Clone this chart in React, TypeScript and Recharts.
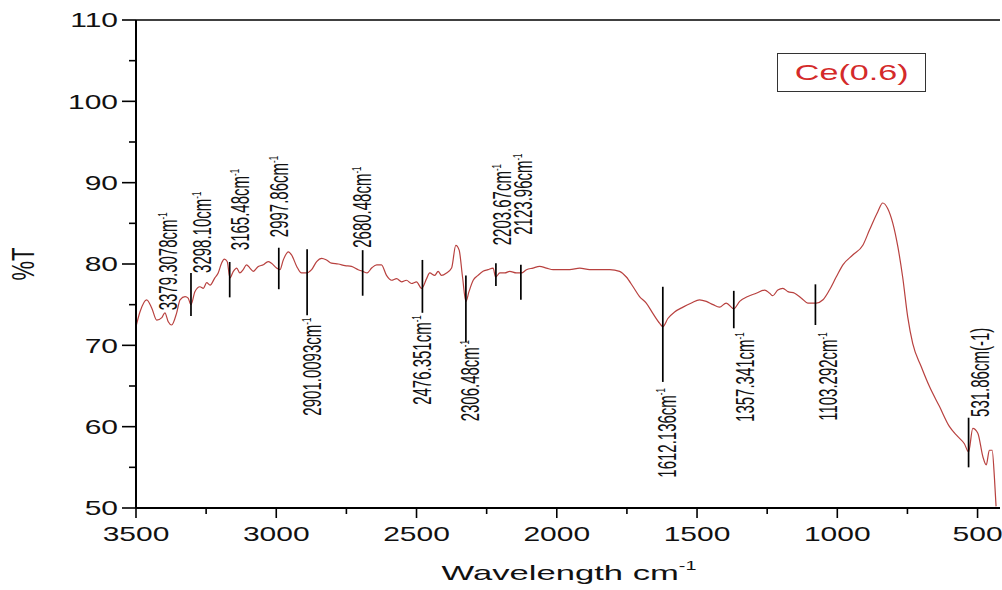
import React from 'react';
import { LineChart, Line, XAxis, YAxis, ReferenceLine, ReferenceDot } from 'recharts';

// spectrum: wavenumber (cm-1) and %T
const wavenumber = [
  3500, 3486, 3462, 3444, 3426, 3408, 3397, 3385, 3373, 3355,
  3343, 3325, 3314, 3304, 3290, 3272, 3260, 3248, 3236, 3219,
  3207, 3195, 3185, 3175, 3165, 3153, 3141, 3130, 3118, 3106,
  3094, 3082, 3064, 3046, 3029, 3017, 2999, 2987, 2975, 2957,
  2945, 2927, 2910, 2892, 2874, 2856, 2838, 2821, 2803, 2779,
  2755, 2732, 2708, 2692, 2676, 2660, 2642, 2625, 2607, 2589,
  2571, 2553, 2536, 2518, 2500, 2482, 2464, 2453, 2435, 2423,
  2411, 2393, 2375, 2360, 2348, 2336, 2324, 2313, 2298, 2281,
  2263, 2245, 2227, 2218, 2203, 2185, 2168, 2144, 2126, 2108,
  2085, 2061, 2037, 2013, 1990, 1954, 1918, 1883, 1847, 1811,
  1776, 1752, 1728, 1705, 1681, 1657, 1633, 1622, 1604, 1580,
  1550, 1520, 1491, 1467, 1443, 1420, 1396, 1369, 1348, 1319,
  1289, 1259, 1241, 1230, 1212, 1194, 1176, 1152, 1128, 1105,
  1075, 1051, 1028, 1004, 980, 945, 909, 885, 856, 838,
  820, 802, 784, 767, 749, 731, 701, 671, 636, 600,
  571, 547, 532, 517, 499, 481, 469, 458, 448, 440,
  434,
];
const transmittance = [
  72.3, 74.1, 75.6, 74.6, 73.1, 73.4, 74.0, 72.9, 72.5, 74.0,
  75.6, 76.0, 75.8, 75.0, 76.6, 77.2, 77.0, 77.7, 77.4, 78.3,
  78.9, 80.1, 80.6, 80.3, 78.3, 79.1, 79.5, 78.9, 79.3, 79.9,
  79.5, 79.1, 79.7, 79.9, 80.3, 80.1, 79.5, 79.3, 80.5, 81.5,
  81.1, 79.7, 78.9, 78.9, 79.3, 80.3, 80.7, 80.5, 80.1, 80.0,
  79.8, 79.7, 79.3, 79.1, 78.9, 79.5, 79.9, 79.9, 78.6, 78.0,
  78.2, 77.8, 78.0, 77.6, 77.8, 77.0, 78.2, 78.9, 78.6, 79.1,
  78.6, 78.9, 79.5, 82.3, 81.7, 78.4, 75.4, 76.6, 78.0, 78.6,
  79.1, 79.3, 79.5, 78.4, 78.9, 78.9, 79.1, 78.9, 78.9, 79.3,
  79.5, 79.7, 79.5, 79.3, 79.3, 79.3, 79.5, 79.3, 79.3, 79.3,
  79.1, 78.4, 77.2, 76.0, 75.2, 73.9, 72.7, 72.3, 73.3, 74.1,
  74.7, 75.2, 75.6, 75.4, 75.0, 74.7, 75.2, 74.5, 75.4, 76.0,
  76.4, 76.8, 76.4, 76.1, 76.8, 77.0, 76.6, 76.4, 75.8, 75.2,
  75.2, 75.6, 76.8, 78.4, 79.9, 81.1, 82.3, 84.2, 86.4, 87.5,
  86.8, 85.0, 82.1, 78.4, 73.5, 70.2, 67.4, 64.9, 62.5, 60.0,
  58.8, 57.9, 56.9, 59.8, 59.2, 56.3, 55.3, 57.1, 57.1, 53.8,
  50.2,
];

const xTicks = [3500, 3250, 3000, 2750, 2500, 2250, 2000, 1750, 1500, 1250, 1000, 750, 500];
const yTicks = [50, 55, 60, 65, 70, 75, 80, 85, 90, 95, 100, 105, 110];

// peak markers: label text, marker line (wavenumber, %T from / to), label anchor
const peakText = [
  '3379.3078cm', '3298.10cm', '3165.48cm', '2997.86cm', '2901.0093cm', '2680.48cm', '2476.351cm',
  '2306.48cm', '2203.67cm', '2123.96cm', '1612.136cm', '1357.341cm', '1103.292cm', '531.86cm(-1)',
];
const peakSup = ['-1', '-1', '-1', '-1', '-1', '-1', '-1', '-1', '-1', '-1', '-1', '-1', '-1', ''];
const peakLineAt = [null, 3304, 3166, 2991, 2890, 2692, 2479, 2324, 2217, 2128, 1622, 1369, 1078, 532];
const peakLineLow = [null, 73.6, 75.9, 76.9, 73.7, 76.1, 74.0, 70.4, 77.3, 75.6, 65.5, 72.1, 72.5, 55.0];
const peakLineHigh = [null, 78.9, 80.25, 82.0, 81.8, 81.7, 80.5, 78.6, 80.1, 79.9, 77.2, 76.7, 77.5, 61.1];
const peakLabelAt = [3385, 3266, 3130, 2991, 2874, 2696, 2482, 2310, 2197, 2121, 1609, 1330, 1034, 493];
const peakLabelT = [74.3, 78.9, 81.7, 83.3, 73.4, 82.0, 73.7, 70.65, 82.3, 83.6, 64.75, 71.6, 71.6, 61.2];
const peakLabelBelow = [false, false, false, false, true, false, true, true, false, false, true, true, true, false];

const data = wavenumber.map((w, i) => ({ w, t: transmittance[i] }));

const FONT = '"Liberation Sans", Arial, sans-serif';
const SX = 1.5; // the source figure is stretched sideways

const XTick = (props: any) => {
  const { x, y, payload } = props;
  const major = payload.value % 500 === 0;
  return (
    <g>
      <line x1={x} x2={x} y1={y} y2={y + (major ? 10 : 6)} stroke="#000" strokeWidth={1.6} />
      {major && (
        <text transform={`translate(${x},${y + 33}) scale(${SX},1)`} textAnchor="middle" fontSize={20} fontFamily={FONT} fill="#111">
          {payload.value}
        </text>
      )}
    </g>
  );
};

const YTick = (props: any) => {
  const { x, y, payload } = props;
  const major = payload.value % 10 === 0;
  return (
    <g>
      <line x1={x - (major ? 14 : 7)} x2={x} y1={y} y2={y} stroke="#000" strokeWidth={1.6} />
      {major && (
        <text transform={`translate(${x - 18},${y}) scale(${SX},1)`} textAnchor="end" dy="0.36em" fontSize={20} fontFamily={FONT} fill="#111">
          {payload.value}
        </text>
      )}
    </g>
  );
};

const XTitle = ({ viewBox }: any) => (
  <text transform={`translate(${viewBox.x + viewBox.width / 2 + 1},${viewBox.y + 72}) scale(1.65,1)`} textAnchor="middle" fontSize={21} fontFamily={FONT} fill="#111">
    Wavelength cm<tspan dy={-10} fontSize={12}>-1</tspan>
  </text>
);

const YTitle = ({ viewBox }: any) => (
  <text transform={`translate(23,${viewBox.y + viewBox.height / 2}) scale(1.4,1) rotate(-90)`} textAnchor="middle" dy="0.36em" fontSize={22} fontFamily={FONT} fill="#111">
    %T
  </text>
);

const peakLabel = (i: number) => (props: any) => {
  const vb = props.viewBox;
  const cx = vb.x + vb.width / 2;
  const cy = vb.y + vb.height / 2;
  return (
    <text
      transform={`translate(${cx},${cy}) scale(1.7,1) rotate(-90)`}
      textAnchor={peakLabelBelow[i] ? 'end' : 'start'}
      dy="0.36em"
      fontSize={15}
      fontFamily={FONT}
      fill="#111"
    >
      {peakText[i]}
      {peakSup[i] && <tspan dy={-6} fontSize={8}>{peakSup[i]}</tspan>}
    </text>
  );
};

export default function App() {
  return (
    <div style={{ position: 'absolute', left: 0, top: 0, width: 1002, height: 590, background: '#fff' }}>
      <LineChart width={1002} height={590} data={data} margin={{ top: 20, right: 2, left: 0, bottom: 0 }}>
        <XAxis
          dataKey="w"
          type="number"
          domain={[420, 3500]}
          reversed
          allowDataOverflow
          ticks={xTicks}
          interval={0}
          height={82}
          tickSize={0}
          tickMargin={0}
          tickLine={false}
          tick={<XTick />}
          axisLine={{ stroke: '#000', strokeWidth: 2 }}
          label={{ content: XTitle }}
        />
        <YAxis
          type="number"
          domain={[50, 110]}
          allowDataOverflow
          ticks={yTicks}
          interval={0}
          width={136}
          tickSize={0}
          tickMargin={0}
          tickLine={false}
          tick={<YTick />}
          axisLine={{ stroke: '#000', strokeWidth: 2 }}
          label={{ content: YTitle }}
        />
        <ReferenceLine y={110} stroke="#000" strokeWidth={1.6} />
        <Line
          type="monotone"
          dataKey="t"
          stroke="#b8413f"
          strokeWidth={1.2}
          dot={false}
          isAnimationActive={false}
        />
        {peakLineAt.map((w, i) =>
          w === null ? null : (
            <ReferenceLine
              key={`l${i}`}
              segment={[{ x: w, y: peakLineLow[i] }, { x: w, y: peakLineHigh[i] }]}
              stroke="#000"
              strokeWidth={1.7}
            />
          ),
        )}
        {peakLabelAt.map((w, i) => (
          <ReferenceDot key={`d${i}`} x={w} y={peakLabelT[i]} r={1} fill="none" stroke="none" label={peakLabel(i)} />
        ))}
      </LineChart>
      <div
        style={{
          position: 'absolute',
          left: 777,
          top: 53,
          width: 149,
          height: 39,
          boxSizing: 'border-box',
          border: '1.5px solid #333',
          background: '#fff',
          display: 'flex',
          alignItems: 'center',
          justifyContent: 'center',
        }}
      >
        <span style={{ display: 'inline-block', transform: 'scaleX(1.55)', color: '#d42a2a', fontSize: 22, fontFamily: FONT }}>
          Ce(0.6)
        </span>
      </div>
    </div>
  );
}
